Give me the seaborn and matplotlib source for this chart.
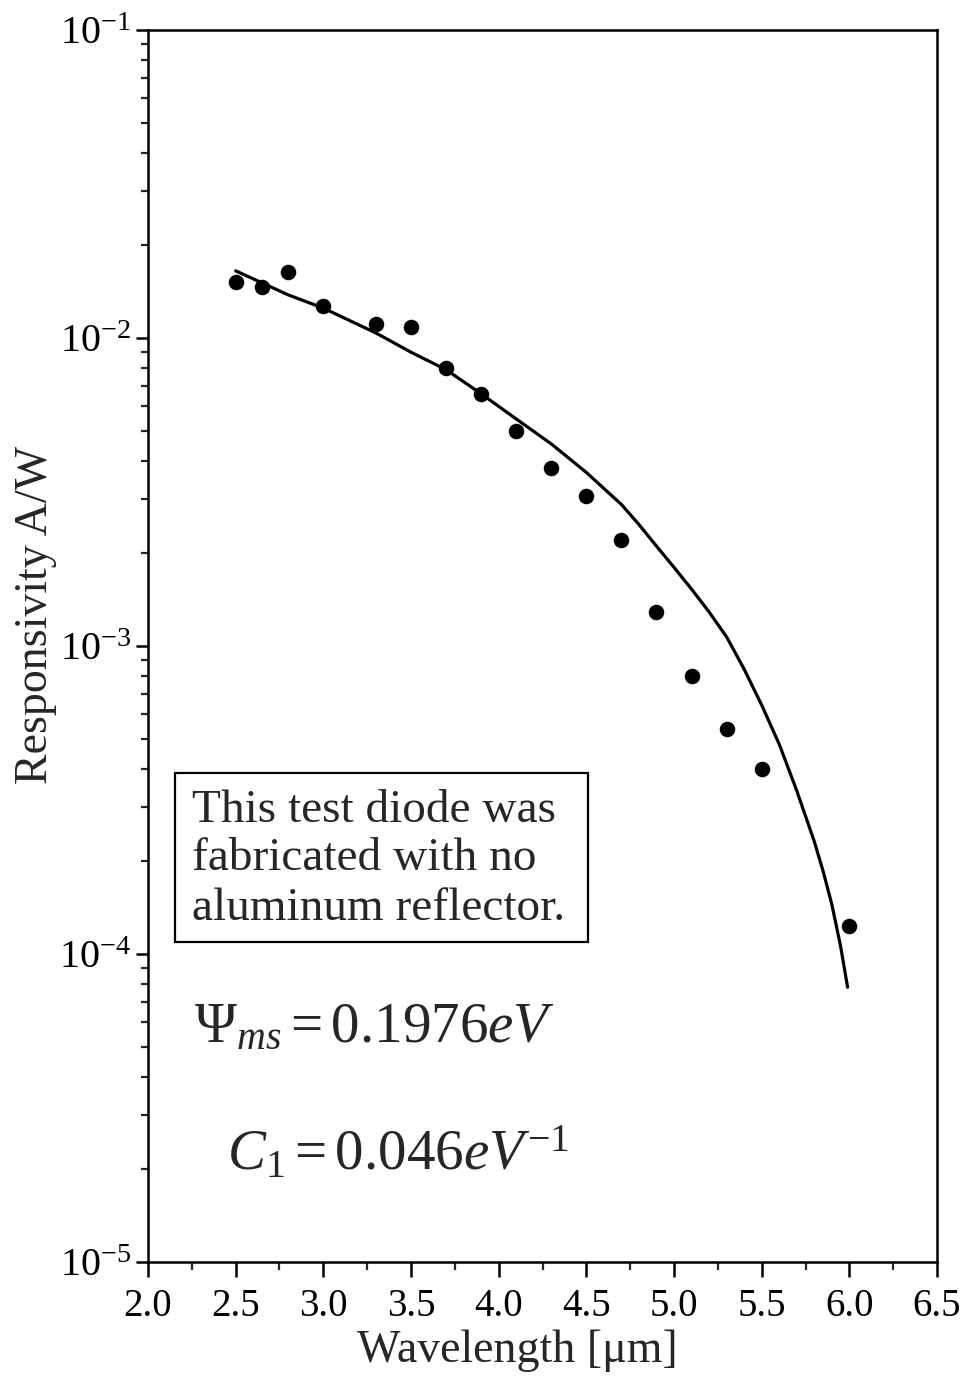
import numpy as np
import pandas as pd
import matplotlib
matplotlib.use("Agg")
import matplotlib.pyplot as plt
import matplotlib.ticker as mticker
from matplotlib.patches import Rectangle
import seaborn as sns

# Measured responsivity of the test diode
meas_wavelength = [2.5, 2.65, 2.8, 3.0, 3.3, 3.5, 3.7, 3.9, 4.1, 4.3, 4.5, 4.7,
                   4.9, 5.1, 5.3, 5.5, 6.0]
meas_resp = [0.01524, 0.01469, 0.01641, 0.01271, 0.01110, 0.01089, 0.00798,
             0.00657, 0.00500, 0.00379, 0.00307, 0.00221, 0.00129, 0.000802,
             0.000538, 0.000399, 0.000123]

# Model curve
fit_wavelength = [2.5, 2.8, 3.0, 3.3, 3.5, 3.7, 3.9, 4.1, 4.3, 4.5, 4.7, 4.8,
                  4.9, 5.0, 5.1, 5.2, 5.3, 5.4, 5.5, 5.6, 5.7, 5.8, 5.85,
                  5.9, 5.95, 5.99]
fit_resp = [0.01652, 0.01380, 0.01250, 0.01038, 0.00899, 0.00789, 0.00659,
            0.00546, 0.00453, 0.00366, 0.00288, 0.00248, 0.00211, 0.00180,
            0.00153, 0.00129, 0.00107, 0.000841, 0.000643, 0.000480,
            0.000339, 0.000232, 0.000186, 0.000145, 0.000106, 0.000078]

x_ticks = [2.0, 2.5, 3.0, 3.5, 4.0, 4.5, 5.0, 5.5, 6.0, 6.5]
y_ticks = [1e-5, 1e-4, 1e-3, 1e-2, 1e-1]

note_lines = ["This test diode was", "fabricated with no", "aluminum reflector."]
psi_text = r"$\Psi_{ms} = 0.1976eV$"
c1_text = r"$C_1 = 0.046eV^{-1}$"

sns.set_style("ticks")
plt.rcParams["font.family"] = ["Liberation Serif", "DejaVu Serif"]
plt.rcParams["mathtext.fontset"] = "custom"
plt.rcParams["mathtext.rm"] = "Liberation Serif"
plt.rcParams["mathtext.it"] = "Liberation Serif:italic"
plt.rcParams["mathtext.bf"] = "Liberation Serif:bold"

meas = pd.DataFrame({"wavelength": meas_wavelength, "resp": meas_resp})
fit = pd.DataFrame({"wavelength": fit_wavelength, "resp": fit_resp})

fig = plt.figure(figsize=(9.66, 13.87), dpi=100)
ax = fig.add_axes([0.1532, 0.0901, 0.8168, 0.8883])

sns.lineplot(data=fit, x="wavelength", y="resp", ax=ax, color="black",
             linewidth=2.3, sort=False, estimator=None)
sns.scatterplot(data=meas, x="wavelength", y="resp", ax=ax, color="black",
                s=125, linewidth=0, zorder=3)

ax.set_yscale("log")
ax.set_xlim(2.0, 6.5)
ax.set_ylim(1e-5, 1e-1)

ax.set_xticks(x_ticks)
ax.set_xticklabels([f"{v:.1f}" for v in x_ticks])
ax.xaxis.set_minor_locator(mticker.MultipleLocator(0.25))
ax.set_yticks(y_ticks)
ax.set_yticklabels([rf"$10^{{{int(np.log10(v))}}}$" for v in y_ticks])
ax.yaxis.set_minor_locator(mticker.LogLocator(base=10, subs=np.arange(2, 10)))
ax.yaxis.set_minor_formatter(mticker.NullFormatter())

for side in ["left", "bottom", "right", "top"]:
    ax.spines[side].set_visible(True)
    ax.spines[side].set_linewidth(1.8)
    ax.spines[side].set_color("black")

ax.tick_params(axis="x", which="major", direction="out", length=11, width=1.8,
               labelsize=28, pad=8, colors="black")
ax.tick_params(axis="x", which="minor", direction="out", length=6, width=1.6)
ax.tick_params(axis="y", which="major", direction="out", length=9, width=1.8,
               labelsize=29, pad=3, colors="black")
ax.tick_params(axis="y", which="minor", direction="out", length=5, width=1.6)

ax.set_xlabel("Wavelength [\u03bcm]", fontsize=33)
ax.set_ylabel("Responsivity A/W", fontsize=33)
ax.xaxis.set_label_coords(0.468, -0.055)
ax.yaxis.set_label_coords(-0.115, 0.525)

# Annotation box
ax.add_patch(Rectangle((0.034, 0.2597), 0.5234, 0.1372, transform=ax.transAxes,
                       fill=False, edgecolor="black", linewidth=1.6, zorder=4))
for yb, line in zip([0.3571, 0.3182, 0.2776], note_lines):
    ax.text(0.0558, yb, line, transform=ax.transAxes, fontsize=34,
            va="baseline", ha="left")

ax.text(0.058, 0.1786, psi_text, transform=ax.transAxes, fontsize=41,
        va="baseline", ha="left")
ax.text(0.100, 0.0747, c1_text, transform=ax.transAxes, fontsize=41,
        va="baseline", ha="left")

fig.savefig("out.png", dpi=100, facecolor="white")
